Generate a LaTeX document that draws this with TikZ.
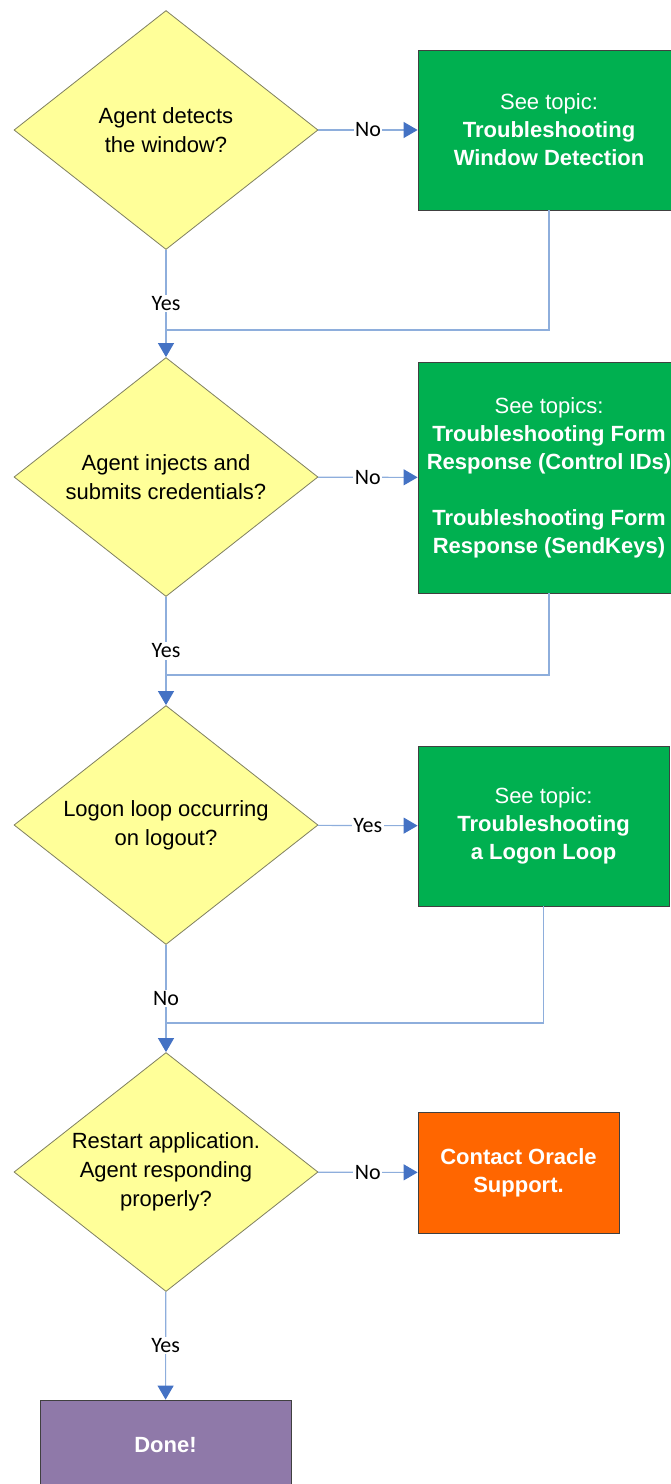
\documentclass[tikz,border=0pt]{standalone}
\usepackage{fontspec}
\setmainfont{Liberation Sans}
\newfontfamily\labelfont{Carlito}
\usepackage{tikz}
\usetikzlibrary{
  arrows.meta,
  positioning,
  shapes.geometric
}
\definecolor{decisionfill}{HTML}{FFFF99}
\definecolor{decisionline}{HTML}{7F7F60}
\definecolor{topicgreen}{HTML}{00B050}
\definecolor{supportorange}{HTML}{FF6600}
\definecolor{donepurple}{HTML}{8F79A9}
\definecolor{boxline}{HTML}{404040}
\definecolor{flowline}{HTML}{8EAEDC}
\definecolor{flowhead}{HTML}{4472C4}
\tikzset{
  decision/.style={diamond, draw=decisionline, fill=decisionfill, line width=0.8pt,
    minimum width=304pt, minimum height=239pt, aspect=1.27, inner sep=0pt,
    align=center, font=\fontsize{22}{29}\selectfont},
  topicbox/.style={rectangle, draw=boxline, fill=topicgreen, line width=0.8pt,
    text=white, align=center, inner sep=0pt, font=\fontsize{22}{28}\selectfont},
  flow/.style={draw=flowline, line width=1.1pt},
  flowarrow/.style={flow, -{Triangle[length=14pt,width=16pt,color=flowhead]}},
  answer/.style={fill=white, inner sep=1.5pt, font=\labelfont\fontsize{22}{26}\selectfont}
}

\begin{document}
\begin{tikzpicture}[x=1pt,y=-1pt]
  \useasboundingbox (0,0) rectangle (671,1484);
  \clip (0,0) rectangle (671,1484);
  % decisions
  \node[decision] (detect) at (166,130) {Agent detects\\the window?};
  \node[decision] (inject) at (166,477) {Agent injects and\\submits credentials?};
  \node[decision] (loop) at (166,825) {Logon loop occurring\\on logout?};
  \node[decision] (restart) at (166,1172) {Restart application.\\Agent responding\\properly?};
  % topic boxes
  \node[topicbox, minimum width=262pt, minimum height=160pt] (winbox) at (549,130)
    {See topic:\\\textbf{Troubleshooting}\\\textbf{Window Detection}};
  \node[topicbox, minimum width=262pt, minimum height=231pt] (formbox) at (549,477.5)
    {See topics:\\\textbf{Troubleshooting Form}\\\textbf{Response (Control IDs)}\\[28pt]
     \textbf{Troubleshooting Form}\\\textbf{Response (SendKeys)}};
  \node[topicbox, minimum width=251pt, minimum height=160pt] (loopbox) at (543.5,826)
    {See topic:\\\textbf{Troubleshooting}\\\textbf{a Logon Loop}};
  \node[topicbox, fill=supportorange, minimum width=201pt, minimum height=121pt] (support) at (518.5,1172.5)
    {\textbf{Contact Oracle}\\\textbf{Support.}};
  \node[topicbox, fill=donepurple, minimum width=251pt, minimum height=90pt] (done) at (165.5,1445)
    {\textbf{Done!}};
  % join points
  \coordinate (join1) at (166,330);
  \coordinate (join2) at (166,675);
  \coordinate (join3) at (166,1023);
  % sideways answers
  \foreach \from/\to/\ans in {detect/winbox/No, inject/formbox/No, loop/loopbox/Yes, restart/support/No}
  {
    \draw[flowarrow] (\from) -- node[answer]{\ans} (\to);
  }
  % downward answers
  \foreach \from/\to/\ans in {detect/inject/Yes, inject/loop/Yes, loop/restart/No, restart/done/Yes}
  {
    \draw[flowarrow] (\from) -- node[answer]{\ans} (\to);
  }
  % returns from topic boxes
  \draw[flow] (winbox) |- (join1);
  \draw[flow] (formbox) |- (join2);
  \draw[flow] (loopbox) |- (join3);
\end{tikzpicture}
\end{document}
